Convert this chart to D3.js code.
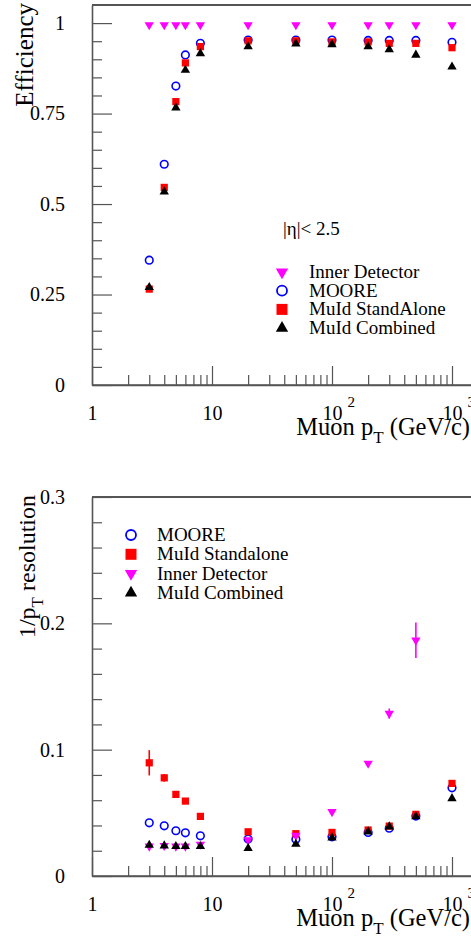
<!DOCTYPE html>
<html>
<head>
<meta charset="utf-8">
<script src="https://cdn.jsdelivr.net/npm/d3@7"></script>
<style>
  html, body { margin: 0; padding: 0; background: #fff; }
  svg { display: block; font-family: 'Liberation Serif', 'Times New Roman', serif; }
  svg text { font-family: 'Liberation Serif', 'Times New Roman', serif; }
</style>
</head>
<body>
<script>
(function (d3) {
  'use strict'
  const w = 471
  const h = 941

  // muon pT points (GeV/c)
  const pt = [3, 4, 5, 6, 8, 20, 50, 100, 200, 300, 500, 1000]

  // efficiency panel
  const effID = [0.995, 0.995, 0.995, 0.995, 0.995, 0.995, 0.995, 0.995, 0.995, 0.995, 0.995, 0.995]
  const effMoore = [0.345, 0.61, 0.826, 0.912, 0.944, 0.953, 0.953, 0.953, 0.952, 0.952, 0.952, 0.947]
  const effSA = [0.265, 0.546, 0.783, 0.89, 0.935, 0.951, 0.951, 0.948, 0.948, 0.944, 0.944, 0.932]
  const effComb = [0.27, 0.534, 0.766, 0.87, 0.916, 0.935, 0.943, 0.941, 0.935, 0.927, 0.912, 0.879]

  // 1/pT resolution panel
  const resMoore = [0.0421, 0.0397, 0.0358, 0.0342, 0.0318, 0.0292, 0.029, 0.031, 0.0345, 0.0378, 0.0474, 0.0698]
  const resSA = [0.0896, 0.0777, 0.0646, 0.0593, 0.0472, 0.035, 0.0335, 0.0345, 0.0364, 0.0395, 0.0488, 0.0733]
  const resSAerr = [0.01, 0.003, 0.001, 0.001, 0.001, 0, 0, 0, 0, 0, 0, 0]
  const resID = [0.0235, 0.024, 0.0235, 0.0235, 0.025, 0.0285, 0.032, 0.0508, 0.0891, 0.1286, 0.1866, null]
  const resIDerr = [0.003, 0.001, 0.001, 0.001, 0.001, 0, 0, 0.001, 0.002, 0.004, 0.014, 0]
  const resComb = [0.0245, 0.024, 0.0235, 0.0235, 0.0235, 0.0219, 0.0253, 0.0303, 0.035, 0.039, 0.047, 0.0614]

  const xMajor = [1, 10, 100, 1000]
  const xMinor = [2, 3, 4, 5, 6, 7, 8, 9, 20, 30, 40, 50, 60, 70, 80, 90, 200, 300, 400, 500, 600, 700, 800, 900]

  const axisColor = '#555'
  const serif = "'Liberation Serif', 'Times New Roman', serif"

  const svg = d3.select('body').append('svg')
    .attr('width', w)
    .attr('height', h)

  const styles = {
    id: { shape: 'down', color: '#ff00ff' },
    moore: { shape: 'circle', color: '#0000ff' },
    sa: { shape: 'square', color: '#ff0000' },
    comb: { shape: 'up', color: '#000000' }
  }

  function marker (g, style, big) {
    if (style.shape === 'circle') {
      return g.append('circle')
        .attr('r', big ? 5 : 3.8)
        .attr('fill', 'none')
        .attr('stroke', style.color)
        .attr('stroke-width', big ? 1.8 : 1.6)
    }
    let sym = d3.symbolTriangle
    let size = big ? 66 : 38
    if (style.shape === 'square') { sym = d3.symbolSquare; size = big ? 121 : 52 }
    const p = g.append('path')
      .attr('d', d3.symbol().type(sym).size(size)())
      .attr('fill', style.color)
    if (style.shape === 'down') p.attr('transform', 'rotate(180)')
    return p
  }

  function panel (cfg) {
    const g = svg.append('g')

    const x = d3.scaleLog()
      .domain([1, 1600])
      .range([92, 92 + Math.log10(1600) * 120])

    const y = d3.scaleLinear()
      .domain(cfg.yDomain)
      .range([cfg.bottom, cfg.top])

    // minor ticks
    g.append('g')
      .attr('transform', 'translate(0,' + cfg.bottom + ')')
      .call(d3.axisBottom(x).tickValues(xMinor).tickSize(-10).tickSizeOuter(0).tickFormat(''))
      .call(a => a.select('.domain').remove())
    g.append('g')
      .attr('transform', 'translate(92,0)')
      .call(d3.axisLeft(y).tickValues(cfg.yMinor).tickSize(-10).tickSizeOuter(0).tickFormat(''))
      .call(a => a.select('.domain').remove())

    // major ticks + labels
    const xa = g.append('g')
      .attr('transform', 'translate(0,' + cfg.bottom + ')')
      .call(d3.axisBottom(x).tickValues(xMajor).tickSize(-19).tickSizeOuter(0).tickPadding(21)
        .tickFormat(d => d >= 100 ? '10' : String(d)))
    xa.attr('font-size', 20).attr('font-family', serif)
    xa.selectAll('.tick')
      .filter(d => d >= 100)
      .append('text')
      .attr('x', 15)
      .attr('y', 21)
      .attr('dy', '0.05em')
      .attr('text-anchor', 'start')
      .attr('fill', '#000')
      .attr('font-size', 15)
      .text(d => Math.round(Math.log10(d)))

    const ya = g.append('g')
      .attr('transform', 'translate(92,0)')
      .call(d3.axisLeft(y).tickValues(cfg.yMajor).tickSize(-20).tickSizeOuter(0).tickPadding(27)
        .tickFormat(cfg.yFormat))
    ya.attr('font-size', 20).attr('font-family', serif)

    g.selectAll('.tick line').attr('stroke', axisColor).attr('stroke-width', 1.2)
    g.selectAll('.domain').attr('stroke', axisColor).attr('stroke-width', 1.6)
    g.selectAll('.tick text').attr('fill', '#000')

    // bottom axis to right edge, plus top frame line
    g.append('line')
      .attr('x1', 92).attr('x2', w)
      .attr('y1', cfg.bottom).attr('y2', cfg.bottom)
      .attr('stroke', axisColor).attr('stroke-width', 1.6)
    g.append('line')
      .attr('x1', 92).attr('x2', w)
      .attr('y1', cfg.top).attr('y2', cfg.top)
      .attr('stroke', axisColor).attr('stroke-width', 2)

    // x title
    const xt = g.append('text')
      .attr('x', 470)
      .attr('y', cfg.bottom + 50)
      .attr('text-anchor', 'end')
      .attr('font-size', 24.5)
    xt.append('tspan').text('Muon p')
    xt.append('tspan').attr('dy', 8).attr('font-size', 17).text('T')
    xt.append('tspan').attr('dy', -8).text(' (GeV/c)')

    // y title
    const yt = g.append('text')
      .attr('transform', 'translate(' + cfg.yTitleX + ',' + (cfg.top - 2) + ') rotate(-90)')
      .attr('text-anchor', 'end')
      .attr('font-size', cfg.yTitleSize)
    cfg.yTitle(yt)

    // data series
    cfg.series.forEach(s => {
      const st = styles[s.key]
      const pts = pt.map((p, i) => ({ p: p, v: s.values[i], e: s.errors ? s.errors[i] : 0 }))
        .filter(d => d.v != null)
      const sg = g.append('g')
      sg.selectAll('line.err')
        .data(pts.filter(d => d.e > 0))
        .enter().append('line')
        .attr('class', 'err')
        .attr('x1', d => x(d.p)).attr('x2', d => x(d.p))
        .attr('y1', d => y(d.v - d.e)).attr('y2', d => y(d.v + d.e))
        .attr('stroke', st.color)
        .attr('stroke-width', 1.6)
      sg.selectAll('g.pt')
        .data(pts)
        .enter().append('g')
        .attr('class', 'pt')
        .attr('transform', d => 'translate(' + x(d.p) + ',' + y(d.v) + ')')
        .each(function () { marker(d3.select(this), st, false) })
    })

    // legend
    cfg.legend.forEach((l, i) => {
      const lg = g.append('g')
        .attr('transform', 'translate(' + cfg.legX + ',' + (cfg.legY + i * cfg.legStep) + ')')
      marker(lg, styles[l.key], true)
      lg.append('text')
        .attr('x', cfg.legTextDx)
        .attr('y', 6)
        .attr('font-size', 19)
        .text(l.label)
    })

    return g
  }

  const top = panel({
    top: 5,
    bottom: 385,
    yDomain: [0, 1.05],
    yMajor: [0, 0.25, 0.5, 0.75, 1],
    yMinor: d3.range(0, 21).map(i => i * 0.05).filter((v, i) => i % 5 !== 0),
    yFormat: d => d === 0 ? '0' : d === 1 ? '1' : String(d),
    yTitleX: 33,
    yTitleSize: 25,
    yTitle: t => t.text('Efficiency'),
    series: [
      { key: 'moore', values: effMoore },
      { key: 'sa', values: effSA },
      { key: 'comb', values: effComb },
      { key: 'id', values: effID }
    ],
    legX: 282,
    legY: 272,
    legStep: 18.7,
    legTextDx: 27,
    legend: [
      { key: 'id', label: 'Inner Detector' },
      { key: 'moore', label: 'MOORE' },
      { key: 'sa', label: 'MuId StandAlone' },
      { key: 'comb', label: 'MuId Combined' }
    ]
  })

  top.append('text')
    .attr('x', 283)
    .attr('y', 235)
    .attr('font-size', 19)
    .text('|\u03b7|< 2.5')

  panel({
    top: 497,
    bottom: 876,
    yDomain: [0, 0.3],
    yMajor: [0, 0.1, 0.2, 0.3],
    yMinor: d3.range(0, 16).map(i => i * 0.02).filter((v, i) => i % 5 !== 0),
    yFormat: d => d === 0 ? '0' : d3.format('.1f')(d),
    yTitleX: 35,
    yTitleSize: 24,
    yTitle: t => {
      t.append('tspan').text('1/p')
      t.append('tspan').attr('dy', 8).attr('font-size', 17).text('T')
      t.append('tspan').attr('dy', -8).text(' resolution')
    },
    series: [
      { key: 'moore', values: resMoore },
      { key: 'sa', values: resSA, errors: resSAerr },
      { key: 'id', values: resID, errors: resIDerr },
      { key: 'comb', values: resComb }
    ],
    legX: 131,
    legY: 535,
    legStep: 19.3,
    legTextDx: 26,
    legend: [
      { key: 'moore', label: 'MOORE' },
      { key: 'sa', label: 'MuId Standalone' },
      { key: 'id', label: 'Inner Detector' },
      { key: 'comb', label: 'MuId Combined' }
    ]
  })

}(d3))
</script>
</body>
</html>
